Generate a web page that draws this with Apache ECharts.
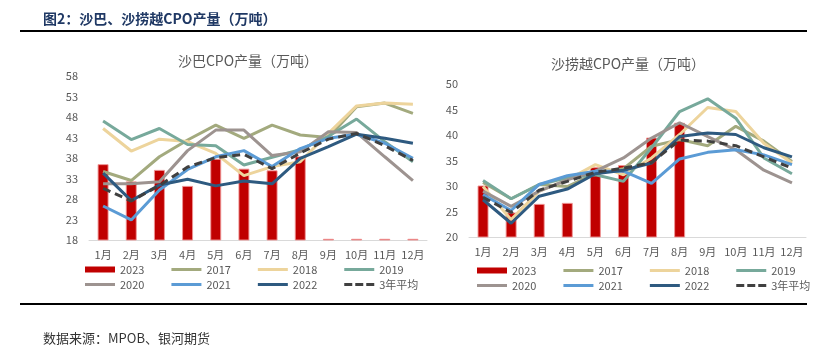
<!DOCTYPE html>
<html>
<head>
<meta charset="utf-8">
<script src="https://cdn.jsdelivr.net/npm/echarts@6/dist/echarts.min.js"></script>
<style>
  html, body { margin: 0; padding: 0; background: #fff; }
  #chart { width: 827px; height: 353px; }
</style>
</head>
<body>
<div id="chart"></div>
<script>
const months = ["1月", "2月", "3月", "4月", "5月", "6月", "7月", "8月", "9月", "10月", "11月", "12月"];
const seriesNames = ["2023", "2017", "2018", "2019", "2020", "2021", "2022", "3年平均"];

// 沙巴
const sabah2023 = [36.5, 32.3, 35.1, 31.2, 37.8, 35.4, 35.0, 38.4, 18.3, 18.3, 18.3, 18.3];
const sabah2017 = [34.7, 32.5, 38.3, 42.4, 46.0, 42.8, 46.0, 43.6, 43.0, 50.5, 51.4, 48.9];
const sabah2018 = [45.2, 39.7, 42.6, 42.0, 39.1, 33.7, 35.9, 37.1, 44.0, 50.7, 51.4, 51.1];
const sabah2019 = [47.0, 42.5, 45.2, 41.3, 41.0, 36.3, 38.2, 40.0, 43.3, 47.5, 42.0, 37.1];
const sabah2020 = [31.7, 31.7, 32.2, 39.8, 44.8, 44.8, 38.6, 39.5, 44.4, 44.2, 38.3, 32.5];
const sabah2021 = [26.3, 22.9, 30.2, 35.2, 38.3, 39.8, 35.9, 40.3, 42.8, 43.8, 41.6, 37.9];
const sabah2022 = [34.3, 27.6, 31.4, 32.8, 31.2, 32.4, 31.7, 37.9, 40.8, 43.8, 42.8, 41.6];
const sabahAvg3 = [30.6, 27.5, 31.3, 35.8, 38.1, 38.9, 35.4, 39.2, 42.6, 44.0, 41.0, 37.4];

// 沙捞越
const sarawak2023 = [30.1, 24.8, 26.5, 26.7, 33.7, 34.1, 39.5, 42.4, null, null, null, null];
const sarawak2017 = [30.7, 27.5, 30.3, 29.9, 32.5, 33.4, 37.8, 39.1, 37.9, 41.7, 38.8, 34.8];
const sarawak2018 = [29.9, 23.4, 29.0, 31.2, 34.2, 32.2, 35.5, 40.1, 45.4, 44.6, 38.4, 34.5];
const sarawak2019 = [31.1, 27.5, 30.3, 31.6, 32.2, 30.9, 37.5, 44.6, 47.1, 43.3, 35.5, 32.4];
const sarawak2020 = [29.0, 26.0, 29.0, 31.2, 32.9, 35.5, 39.4, 42.4, 39.7, 37.1, 33.1, 30.6];
const sarawak2021 = [28.3, 25.2, 30.3, 32.0, 32.9, 32.9, 30.5, 35.3, 36.6, 37.1, 36.1, 34.2];
const sarawak2022 = [27.3, 22.7, 28.0, 29.4, 32.4, 33.1, 34.5, 39.7, 40.4, 40.1, 37.5, 35.7];
const sarawakAvg3 = [27.8, 24.8, 29.2, 30.9, 32.7, 33.5, 34.6, 39.0, 38.8, 37.9, 35.7, 33.5];

const lineColors = {
  "2017": "#A3AA7E",
  "2018": "#EDD49C",
  "2019": "#77A99B",
  "2020": "#9D9390",
  "2021": "#5B9BD5",
  "2022": "#2E5A80",
  "3年平均": "#404040"
};

const font = "'Noto Sans CJK SC', 'Noto Sans', sans-serif";
const gray = "#595959";

// legend icons: solid bar for lines, three dashes for the average
const lineIcon = "path://M0,0H30V3H0Z";
const dashIcon = "path://M0,0H8V3H0Z M11,0H19V3H11Z M22,0H30V3H22Z";

function buildSeries(idx, data) {
  const list = [{
    name: "2023", type: "bar", xAxisIndex: idx, yAxisIndex: idx,
    data: data[0], barWidth: 11,
    itemStyle: { color: "#C00000", borderColor: "rgba(240,150,150,0.9)", borderWidth: 1 },
    z: 1
  }];
  for (let i = 1; i < seriesNames.length; i++) {
    const name = seriesNames[i];
    const dashed = name === "3年平均";
    list.push({
      name, type: "line", xAxisIndex: idx, yAxisIndex: idx,
      data: data[i], symbol: "none", smooth: false,
      lineStyle: {
        color: lineColors[name], width: 3,
        type: dashed ? [8, 5] : "solid", cap: "butt"
      },
      itemStyle: { color: lineColors[name] },
      z: dashed ? 4 : 3
    });
  }
  return list;
}

function legendItem(name) {
  if (name === "2023") return { name, icon: "rect", itemStyle: { borderWidth: 0 } };
  return { name, icon: name === "3年平均" ? dashIcon : lineIcon };
}

function legendRow(left, top, names) {
  return {
    left, top, orient: "horizontal",
    data: names.map(legendItem),
    itemWidth: 30, itemHeight: 6, itemGap: 27,
    textStyle: { color: gray, fontSize: 11, fontFamily: font },
    selectedMode: false
  };
}

function yAxis(idx, min, max) {
  return {
    gridIndex: idx, type: "value", min, max, interval: 5,
    axisLine: { show: false }, axisTick: { show: false },
    splitLine: { show: false },
    axisLabel: { color: gray, fontSize: 11, fontFamily: font, margin: 11 }
  };
}

function xAxis(idx) {
  return {
    gridIndex: idx, type: "category", data: months,
    axisLine: { lineStyle: { color: "#D9D9D9", width: 1 } },
    axisTick: { show: false },
    axisLabel: { color: gray, fontSize: 11, fontFamily: font, margin: 9, interval: 0 }
  };
}

const chart = echarts.init(document.getElementById("chart"), null, { renderer: "canvas" });
chart.setOption({
  animation: false,
  backgroundColor: "#fff",
  title: [
    { text: "图2：沙巴、沙捞越CPO产量（万吨）", left: 38, top: 7,
      textStyle: { color: "#1F3864", fontSize: 14, fontWeight: "bold", fontFamily: font } },
    { text: "沙巴CPO产量（万吨）", left: 243, top: 49, textAlign: "center",
      textStyle: { color: gray, fontSize: 14, fontWeight: "normal", fontFamily: font } },
    { text: "沙捞越CPO产量（万吨）", left: 623, top: 52, textAlign: "center",
      textStyle: { color: gray, fontSize: 14, fontWeight: "normal", fontFamily: font } },
    { text: "数据来源：MPOB、银河期货", left: 38, top: 327,
      textStyle: { color: "#333", fontSize: 13, fontWeight: "normal", fontFamily: font } }
  ],
  graphic: [
    { type: "line", shape: { x1: 20, y1: 31, x2: 807, y2: 31 }, style: { stroke: "#000", lineWidth: 2 } },
    { type: "line", shape: { x1: 20, y1: 304, x2: 807, y2: 304 }, style: { stroke: "#000", lineWidth: 2 } }
  ],
  legend: [
    legendRow(80, 259, ["2023", "2017", "2018", "2019"]),
    legendRow(80, 274, ["2020", "2021", "2022", "3年平均"]),
    legendRow(472, 260, ["2023", "2017", "2018", "2019"]),
    legendRow(472, 275, ["2020", "2021", "2022", "3年平均"])
  ],
  grid: [
    { left: 89, right: 400, top: 76, bottom: 113 },
    { left: 469, right: 21, top: 84, bottom: 116 }
  ],
  xAxis: [xAxis(0), xAxis(1)],
  yAxis: [yAxis(0, 18, 58), yAxis(1, 20, 50)],
  series: [
    ...buildSeries(0, [sabah2023, sabah2017, sabah2018, sabah2019, sabah2020, sabah2021, sabah2022, sabahAvg3]),
    ...buildSeries(1, [sarawak2023, sarawak2017, sarawak2018, sarawak2019, sarawak2020, sarawak2021, sarawak2022, sarawakAvg3])
  ]
});
</script>
</body>
</html>
